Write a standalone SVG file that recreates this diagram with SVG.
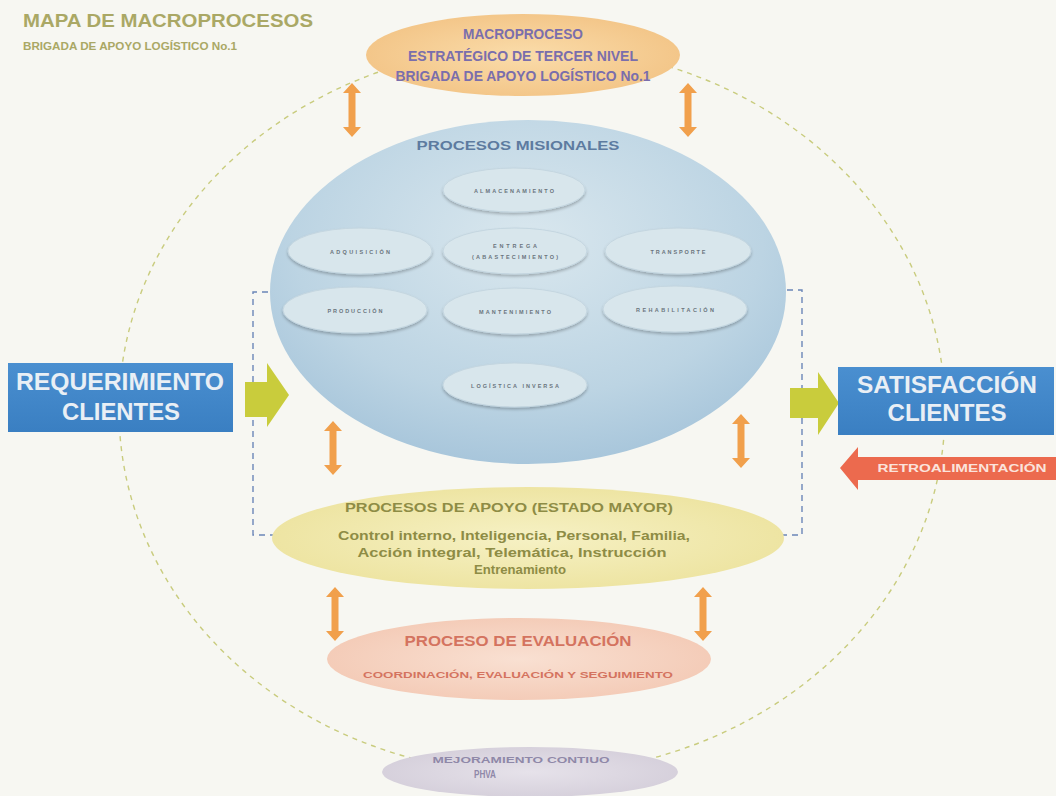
<svg xmlns="http://www.w3.org/2000/svg" width="1056" height="796" viewBox="0 0 1056 796">
<defs>
<style>
.b{font-family:"Liberation Sans",Arial,sans-serif;font-weight:bold;}
.tiny{font-family:"Liberation Sans",Arial,sans-serif;font-weight:bold;font-size:5.5px;fill:#6a747c;text-anchor:middle;}
.sub{fill:#d8e6ec;stroke:#c4d6e0;stroke-width:1;filter:url(#sh);}
.oa{fill:#f1a04c;}
</style>
<radialGradient id="gBlue" cx="0.5" cy="0.35" r="0.65">
<stop offset="0" stop-color="#d9e7ee"/><stop offset="0.7" stop-color="#bcd4e3"/><stop offset="1" stop-color="#a8c6db"/>
</radialGradient>
<radialGradient id="gOr" cx="0.5" cy="0.5" r="0.6">
<stop offset="0" stop-color="#fadcaa"/><stop offset="1" stop-color="#f2c283"/>
</radialGradient>
<radialGradient id="gYe" cx="0.5" cy="0.5" r="0.6">
<stop offset="0" stop-color="#f6f1c4"/><stop offset="1" stop-color="#ece29c"/>
</radialGradient>
<radialGradient id="gPk" cx="0.5" cy="0.5" r="0.6">
<stop offset="0" stop-color="#f9e0d2"/><stop offset="1" stop-color="#f3c8b3"/>
</radialGradient>
<radialGradient id="gLv" cx="0.5" cy="0.5" r="0.6">
<stop offset="0" stop-color="#e6e2ea"/><stop offset="1" stop-color="#d3cdd9"/>
</radialGradient>
<radialGradient id="gSub" cx="0.5" cy="0.4" r="0.6">
<stop offset="0" stop-color="#eef4f4"/><stop offset="1" stop-color="#d6e4ea"/>
</radialGradient>
<linearGradient id="gBox" x1="0" y1="0" x2="0" y2="1">
<stop offset="0" stop-color="#4a8fd0"/><stop offset="1" stop-color="#3a7fc2"/>
</linearGradient>
<filter id="sh" x="-10%" y="-20%" width="120%" height="150%">
<feGaussianBlur in="SourceAlpha" stdDeviation="1.5"/><feOffset dx="0" dy="2" result="o"/>
<feComponentTransfer><feFuncA type="linear" slope="0.25"/></feComponentTransfer>
<feMerge><feMergeNode/><feMergeNode in="SourceGraphic"/></feMerge>
</filter>
<path id="dArrow" d="M0,-27 L9,-17 L3.5,-17 L3.5,17 L9,17 L0,27 L-9,17 L-3.5,17 L-3.5,-17 L-9,-17 Z"/>
</defs>

<rect width="1056" height="796" fill="#f7f7f2"/>

<g id="title">
<text class="b" x="23" y="27" font-size="18" fill="#aaa865" textLength="290" lengthAdjust="spacingAndGlyphs">MAPA DE MACROPROCESOS</text>
<text class="b" x="23" y="50" font-size="10.5" fill="#aaa865" textLength="214" lengthAdjust="spacingAndGlyphs">BRIGADA DE APOYO LOGÍSTICO No.1</text>
</g>

<g id="connectors">
<ellipse cx="532" cy="410" rx="413" ry="364" fill="none" stroke="#c9cc7e" stroke-width="1.4" stroke-dasharray="5 5"/>
<path d="M268,292 H253 V535 H273" fill="none" stroke="#6b86b8" stroke-width="1.4" stroke-dasharray="6 5"/>
<path d="M787,290 H802 V535 H782" fill="none" stroke="#6b86b8" stroke-width="1.4" stroke-dasharray="6 5"/>
<use href="#dArrow" class="oa" transform="translate(352,110)"/>
<use href="#dArrow" class="oa" transform="translate(688,110)"/>
<use href="#dArrow" class="oa" transform="translate(333,448)"/>
<use href="#dArrow" class="oa" transform="translate(741,441)"/>
<use href="#dArrow" class="oa" transform="translate(335,614)"/>
<use href="#dArrow" class="oa" transform="translate(703,614)"/>
<path d="M245,382 H267 V363 L289,395 L267,427 V417 H245 Z" fill="#c9cc3c"/>
<path d="M790,388 H818 V372 L839,403 L818,435 V418 H790 Z" fill="#c9cc3c"/>
</g>

<g id="strategic">
<ellipse cx="523" cy="55" rx="157" ry="41" fill="url(#gOr)"/>
<text class="b" x="523" y="39" font-size="14" fill="#7a6eac" text-anchor="middle" textLength="120" lengthAdjust="spacingAndGlyphs">MACROPROCESO</text>
<text class="b" x="523" y="61" font-size="14" fill="#7a6eac" text-anchor="middle" textLength="230" lengthAdjust="spacingAndGlyphs">ESTRATÉGICO DE TERCER NIVEL</text>
<text class="b" x="523" y="81" font-size="14" fill="#7a6eac" text-anchor="middle" textLength="255" lengthAdjust="spacingAndGlyphs">BRIGADA DE APOYO LOGÍSTICO No.1</text>
</g>

<g id="misionales">
<ellipse cx="528" cy="292" rx="258" ry="172" fill="url(#gBlue)"/>
<text class="b" x="518" y="150" font-size="13" fill="#5d7ba0" text-anchor="middle" textLength="203" lengthAdjust="spacingAndGlyphs">PROCESOS MISIONALES</text>
</g>

<g id="almacenamiento">
<ellipse class="sub" cx="514" cy="190" rx="71" ry="22" fill="url(#gSub)"/>
<text class="tiny" x="514" y="193" textLength="80" lengthAdjust="spacing">ALMACENAMIENTO</text>
</g>
<g id="adquisicion">
<ellipse class="sub" cx="360" cy="251" rx="72" ry="23" fill="url(#gSub)"/>
<text class="tiny" x="360" y="254" textLength="60" lengthAdjust="spacing">ADQUISICIÓN</text>
</g>
<g id="entrega">
<ellipse class="sub" cx="515" cy="251" rx="72" ry="23" fill="url(#gSub)"/>
<text class="tiny" x="515" y="248" textLength="44" lengthAdjust="spacing">ENTREGA</text>
<text class="tiny" x="515" y="259" textLength="86" lengthAdjust="spacing">(ABASTECIMIENTO)</text>
</g>
<g id="transporte">
<ellipse class="sub" cx="678" cy="251" rx="73" ry="23" fill="url(#gSub)"/>
<text class="tiny" x="678" y="254" textLength="55" lengthAdjust="spacing">TRANSPORTE</text>
</g>
<g id="produccion">
<ellipse class="sub" cx="355" cy="310" rx="72" ry="23" fill="url(#gSub)"/>
<text class="tiny" x="355" y="313" textLength="55" lengthAdjust="spacing">PRODUCCIÓN</text>
</g>
<g id="mantenimiento">
<ellipse class="sub" cx="515" cy="311" rx="72" ry="23" fill="url(#gSub)"/>
<text class="tiny" x="515" y="314" textLength="72" lengthAdjust="spacing">MANTENIMIENTO</text>
</g>
<g id="rehabilitacion">
<ellipse class="sub" cx="675" cy="309" rx="72" ry="23" fill="url(#gSub)"/>
<text class="tiny" x="675" y="312" textLength="78" lengthAdjust="spacing">REHABILITACIÓN</text>
</g>
<g id="logistica-inversa">
<ellipse class="sub" cx="515" cy="385" rx="72" ry="22" fill="url(#gSub)"/>
<text class="tiny" x="515" y="388" textLength="88" lengthAdjust="spacing">LOGÍSTICA INVERSA</text>
</g>

<g id="requerimiento">
<rect x="8" y="363" width="225" height="69" fill="url(#gBox)"/>
<text class="b" x="120" y="390" font-size="24" fill="#e9eff5" text-anchor="middle" textLength="208" lengthAdjust="spacingAndGlyphs">REQUERIMIENTO</text>
<text class="b" x="121" y="420" font-size="24" fill="#e9eff5" text-anchor="middle" textLength="118" lengthAdjust="spacingAndGlyphs">CLIENTES</text>
</g>

<g id="satisfaccion">
<rect x="838" y="367" width="216" height="68" fill="url(#gBox)"/>
<text class="b" x="947" y="393" font-size="24" fill="#e9eff5" text-anchor="middle" textLength="180" lengthAdjust="spacingAndGlyphs">SATISFACCIÓN</text>
<text class="b" x="947" y="421" font-size="24" fill="#e9eff5" text-anchor="middle" textLength="119" lengthAdjust="spacingAndGlyphs">CLIENTES</text>
</g>

<g id="retroalimentacion">
<path d="M1056,457 H858 V447 L840,468 L858,490 V480 H1056 Z" fill="#ec6a4e"/>
<text class="b" x="962" y="472" font-size="11" fill="#fbe3dc" text-anchor="middle" textLength="169" lengthAdjust="spacingAndGlyphs">RETROALIMENTACIÓN</text>
</g>

<g id="apoyo">
<ellipse cx="528" cy="538" rx="256" ry="51" fill="url(#gYe)"/>
<text class="b" x="509" y="512" font-size="13" fill="#8e8c45" text-anchor="middle" textLength="328" lengthAdjust="spacingAndGlyphs">PROCESOS DE APOYO (ESTADO MAYOR)</text>
<text class="b" x="514" y="540" font-size="12" fill="#8e8c45" text-anchor="middle" textLength="352" lengthAdjust="spacingAndGlyphs">Control interno, Inteligencia, Personal, Familia,</text>
<text class="b" x="512" y="557" font-size="12" fill="#8e8c45" text-anchor="middle" textLength="309" lengthAdjust="spacingAndGlyphs">Acción integral, Telemática, Instrucción</text>
<text class="b" x="520" y="574" font-size="13.5" fill="#8e8c45" text-anchor="middle" textLength="92" lengthAdjust="spacingAndGlyphs">Entrenamiento</text>
</g>

<g id="evaluacion">
<ellipse cx="519" cy="659" rx="192" ry="41" fill="url(#gPk)"/>
<text class="b" x="518" y="646" font-size="14" fill="#d4735f" text-anchor="middle" textLength="227" lengthAdjust="spacingAndGlyphs">PROCESO DE EVALUACIÓN</text>
<text class="b" x="518" y="678" font-size="9.5" fill="#d4735f" text-anchor="middle" textLength="310" lengthAdjust="spacingAndGlyphs">COORDINACIÓN, EVALUACIÓN Y SEGUIMIENTO</text>
</g>

<g id="mejoramiento">
<ellipse cx="530" cy="772" rx="148" ry="25" fill="url(#gLv)"/>
<text class="b" x="521" y="763" font-size="9" fill="#8f88a8" text-anchor="middle" textLength="177" lengthAdjust="spacingAndGlyphs">MEJORAMIENTO CONTIUO</text>
<text class="b" x="485" y="778" font-size="10" fill="#8f88a8" text-anchor="middle" textLength="22" lengthAdjust="spacingAndGlyphs">PHVA</text>
</g>
</svg>
